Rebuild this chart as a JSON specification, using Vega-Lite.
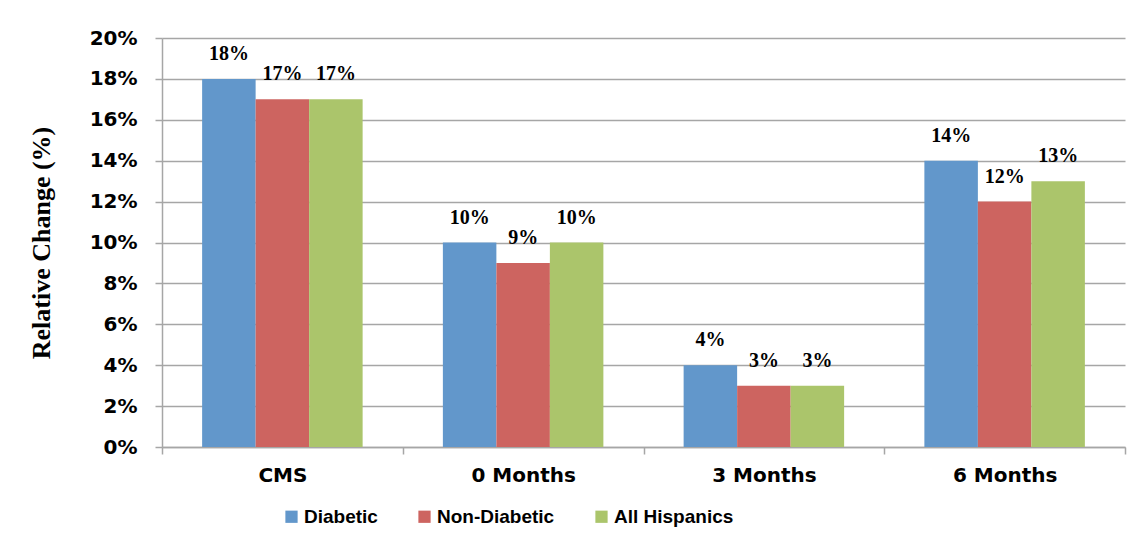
{
  "$schema": "https://vega.github.io/schema/vega-lite/v6.json",
  "autosize": {"type": "none"},
  "padding": {"left": 162, "top": 38, "right": 17, "bottom": 96},
  "width": 963,
  "height": 409,
  "background": "white",
  "config": {
    "view": {"stroke": null},
    "axis": {"labelFont": "DejaVu Sans", "labelFontWeight": "bold", "labelFontSize": 20, "labelColor": "black", "domainColor": "#A6A6A6", "domainWidth": 1.5, "tickColor": "#A6A6A6", "tickWidth": 1.5, "gridColor": "#A6A6A6", "gridWidth": 1.5}
  },
  "data": {
    "values": [
      {"period": "CMS", "group": "Diabetic", "value": 0.18},
      {"period": "CMS", "group": "Non-Diabetic", "value": 0.17},
      {"period": "CMS", "group": "All Hispanics", "value": 0.17},
      {"period": "0 Months", "group": "Diabetic", "value": 0.10},
      {"period": "0 Months", "group": "Non-Diabetic", "value": 0.09},
      {"period": "0 Months", "group": "All Hispanics", "value": 0.10},
      {"period": "3 Months", "group": "Diabetic", "value": 0.04},
      {"period": "3 Months", "group": "Non-Diabetic", "value": 0.03},
      {"period": "3 Months", "group": "All Hispanics", "value": 0.03},
      {"period": "6 Months", "group": "Diabetic", "value": 0.14},
      {"period": "6 Months", "group": "Non-Diabetic", "value": 0.12},
      {"period": "6 Months", "group": "All Hispanics", "value": 0.13}
    ]
  },
  "encoding": {
    "x": {
      "field": "period", "type": "nominal", "sort": ["CMS", "0 Months", "3 Months", "6 Months"],
      "scale": {"paddingInner": 0, "paddingOuter": 0},
      "axis": {"title": null, "labelAngle": 0, "tickBand": "extent", "tickSize": 7, "labelPadding": 11, "grid": false}
    },
    "xOffset": {
      "field": "group", "type": "nominal", "sort": ["Diabetic", "Non-Diabetic", "All Hispanics"],
      "scale": {"paddingInner": 0, "paddingOuter": 0.75}
    },
    "y": {
      "field": "value", "type": "quantitative",
      "scale": {"domain": [0, 0.2], "nice": false},
      "axis": {"title": "Relative Change (%)", "format": ".0%", "values": [0, 0.02, 0.04, 0.06, 0.08, 0.1, 0.12, 0.14, 0.16, 0.18, 0.2], "tickSize": 7, "labelPadding": 18, "grid": true,
        "titleFont": "Liberation Serif", "titleFontWeight": "bold", "titleFontSize": 26, "titleColor": "black", "titlePadding": 35}
    }
  },
  "layer": [
    {
      "mark": {"type": "bar"},
      "encoding": {
        "color": {
          "field": "group", "type": "nominal", "sort": ["Diabetic", "Non-Diabetic", "All Hispanics"],
          "scale": {"domain": ["Diabetic", "Non-Diabetic", "All Hispanics"], "range": ["#6297CB", "#CD6460", "#ABC56B"]},
          "legend": {
            "title": null, "orient": "none", "direction": "horizontal", "legendX": 120, "legendY": 469,
            "symbolType": "square", "symbolSize": 150, "symbolStrokeWidth": 0, "symbolOpacity": 1,
            "labelFont": "Liberation Sans", "labelFontWeight": "bold", "labelFontSize": 19, "labelColor": "black",
            "labelOffset": 3, "columnPadding": 37
          }
        }
      }
    },
    {
      "mark": {"type": "text", "baseline": "alphabetic", "dy": -19, "font": "Liberation Serif", "fontWeight": "bold", "fontSize": 20, "color": "black"},
      "encoding": {
        "text": {"field": "value", "type": "quantitative", "format": ".0%"}
      }
    }
  ]
}
